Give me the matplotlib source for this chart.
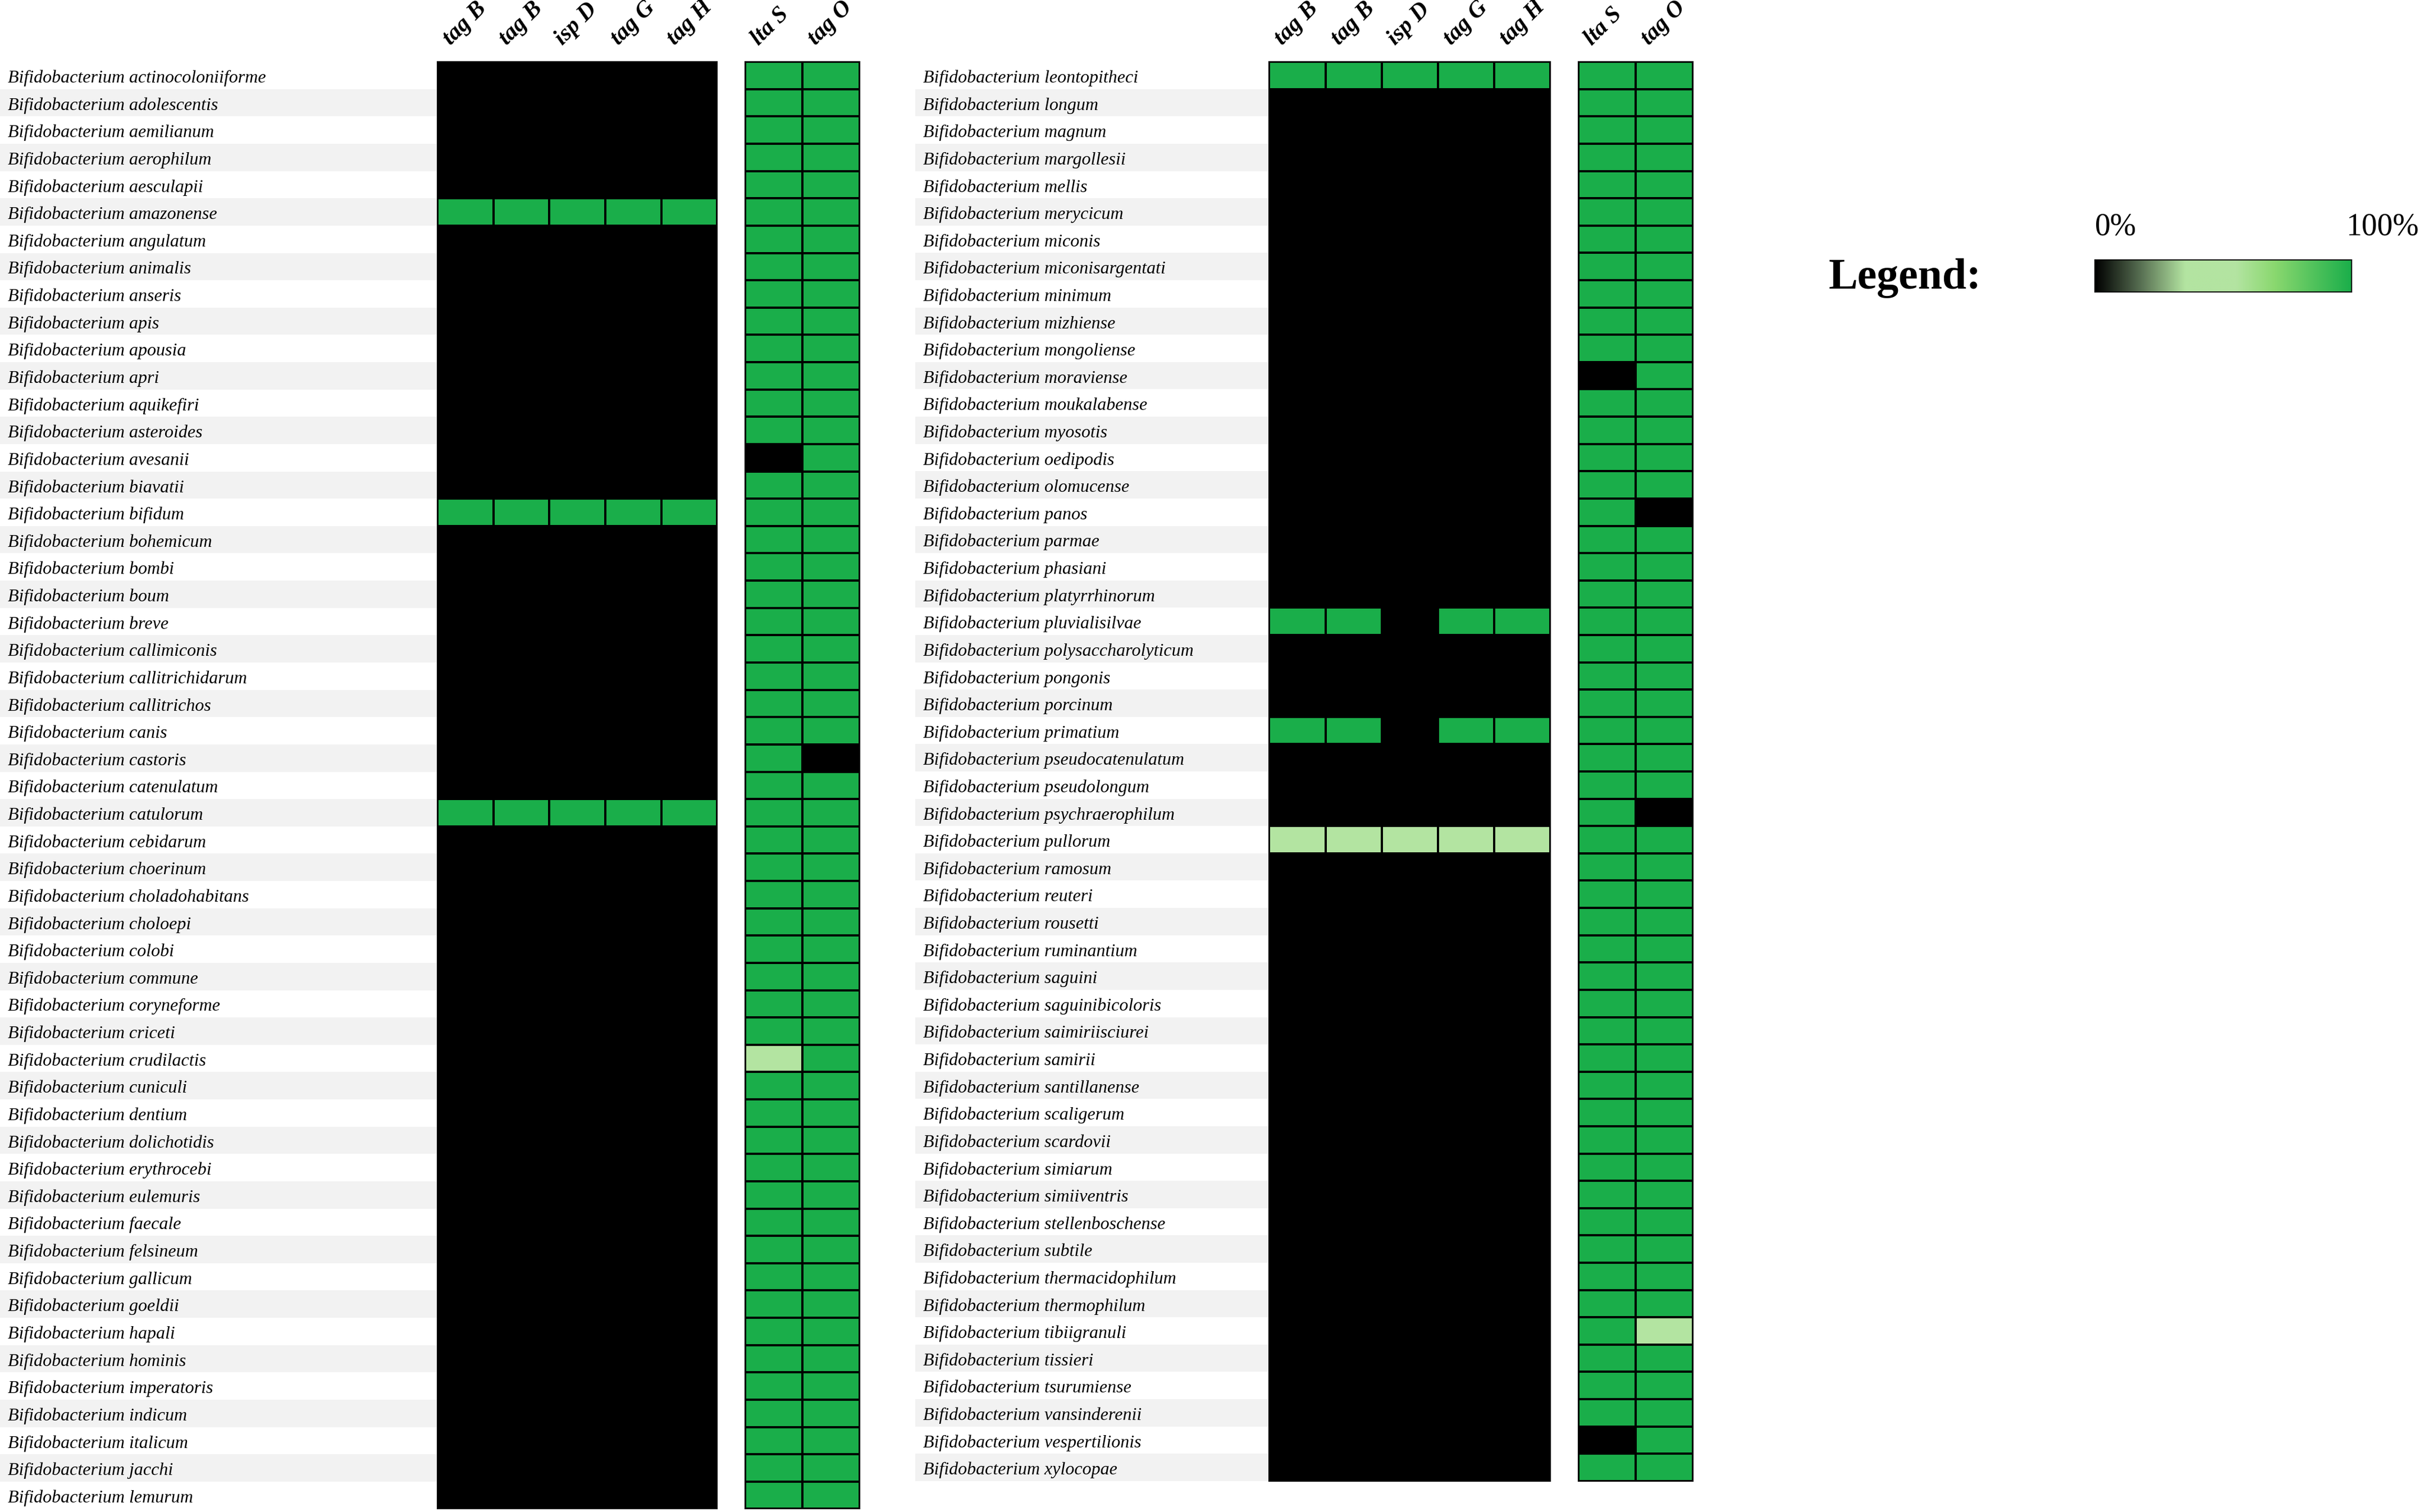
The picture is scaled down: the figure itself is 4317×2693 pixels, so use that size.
import matplotlib
matplotlib.use("Agg")
import matplotlib.pyplot as plt
import numpy as np
from matplotlib.colors import LinearSegmentedColormap

left_species = ["actinocoloniiforme","adolescentis","aemilianum","aerophilum","aesculapii","amazonense",
"angulatum","animalis","anseris","apis","apousia","apri","aquikefiri","asteroides","avesanii","biavatii",
"bifidum","bohemicum","bombi","boum","breve","callimiconis","callitrichidarum","callitrichos","canis",
"castoris","catenulatum","catulorum","cebidarum","choerinum","choladohabitans","choloepi","colobi",
"commune","coryneforme","criceti","crudilactis","cuniculi","dentium","dolichotidis","erythrocebi",
"eulemuris","faecale","felsineum","gallicum","goeldii","hapali","hominis","imperatoris","indicum",
"italicum","jacchi","lemurum"]
right_species = ["leontopitheci","longum","magnum","margollesii","mellis","merycicum","miconis",
"miconisargentati","minimum","mizhiense","mongoliense","moraviense","moukalabense","myosotis","oedipodis",
"olomucense","panos","parmae","phasiani","platyrrhinorum","pluvialisilvae","polysaccharolyticum","pongonis",
"porcinum","primatium","pseudocatenulatum","pseudolongum","psychraerophilum","pullorum","ramosum","reuteri",
"rousetti","ruminantium","saguini","saguinibicoloris","saimiriisciurei","samirii","santillanense","scaligerum",
"scardovii","simiarum","simiiventris","stellenboschense","subtile","thermacidophilum","thermophilum",
"tibiigranuli","tissieri","tsurumiense","vansinderenii","vespertilionis","xylocopae"]

genes_main = ["tag B", "tag B", "isp D", "tag G", "tag H"]
genes_side = ["lta S", "tag O"]

# values (0 = 0%, 1 = 100%) per species: tagB, tagB, ispD, tagG, tagH | ltaS, tagO
left_main = [[0]*5]*53
left_main = [list(r) for r in left_main]
for i in (5, 16, 27):
    left_main[i] = [1, 1, 1, 1, 1]
left_ltaS = [1]*53
left_ltaS[14] = 0
left_ltaS[36] = 0.5
left_tagO = [1]*53
left_tagO[25] = 0

right_main = [[0]*5 for _ in range(52)]
right_main[0] = [1, 1, 1, 1, 1]
right_main[20] = [1, 1, 0, 1, 1]
right_main[24] = [1, 1, 0, 1, 1]
right_main[28] = [0.5, 0.5, 0.5, 0.5, 0.5]
right_ltaS = [1]*52
right_ltaS[11] = 0
right_ltaS[50] = 0
right_tagO = [1]*52
right_tagO[16] = 0
right_tagO[27] = 0
right_tagO[46] = 0.5

cmap = LinearSegmentedColormap.from_list("g", [(0, "#000000"), (0.15, "#4a5e46"), (0.35, "#b3e4a1"),
                                               (0.55, "#b3e4a1"), (0.7, "#8ad86f"), (1.0, "#1aae4a")])

W, H = 1568, 978
fig = plt.figure(figsize=(43.17, 26.93), dpi=100)

def ax_px(x0, x1, y0, y1, **kw):
    return fig.add_axes([x0/W, 1-y1/H, (x1-x0)/W, (y1-y0)/H], **kw)

def panel(species, main, ltaS, tagO, lab_x, hx0, hx1, sx0, sx1, y0, y1):
    n = len(species)
    # labels axes with stripes
    la = ax_px(lab_x-5, hx0, y0, y1)
    la.set_xlim(0, 1); la.set_ylim(n, 0); la.axis("off")
    for i in range(n):
        if i % 2 == 1:
            la.axhspan(i, i+1, color="#f2f2f2", lw=0, zorder=0)
        la.text(5/(hx0-lab_x+5), i+0.6, "Bifidobacterium " + species[i], fontsize=23,
                family="Liberation Serif", style="italic", va="center", ha="left", clip_on=True)
    for x0, x1, data, labs in ((hx0, hx1, np.array(main, float), genes_main),
                               (sx0, sx1, np.column_stack([ltaS, tagO]).astype(float), genes_side)):
        a = ax_px(x0, x1, y0, y1)
        a.pcolormesh(np.arange(data.shape[1]+1), np.arange(n+1), data, cmap=cmap, vmin=0, vmax=1,
                     edgecolors="black", linewidth=1.5)
        a.set_xlim(0, data.shape[1]); a.set_ylim(n, 0)
        a.set_xticks([]); a.set_yticks([])
        for s in a.spines.values():
            s.set_linewidth(1.5)
        for j, g in enumerate(labs):
            a.text(j+0.3, -0.45, g, rotation=45, rotation_mode="anchor", ha="left", va="bottom",
                   fontsize=30, family="Liberation Serif", style="italic", weight="bold", clip_on=False)

panel(left_species, left_main, left_ltaS, left_tagO, 5, 283, 464, 482, 556, 40, 976)
panel(right_species, right_main, right_ltaS, right_tagO, 597, 821, 1003, 1021, 1095, 40, 958)

# legend
ca = ax_px(1355, 1521, 168, 189)
ca.imshow(np.linspace(0, 1, 256)[None, :], cmap=cmap, aspect="auto", extent=(0, 1, 0, 1))
ca.set_xticks([]); ca.set_yticks([])
for s in ca.spines.values():
    s.set_linewidth(1.5)
ca.text(0.0, 2.0, "0%", ha="left", va="center", fontsize=40, family="Liberation Serif", transform=ca.transAxes)
ca.text(1.12, 2.0, "100%", ha="center", va="center", fontsize=40, family="Liberation Serif", transform=ca.transAxes)
fig.text(1183/W, 1-180/H, "Legend:", ha="left", va="center", fontsize=56, weight="bold", family="Liberation Serif")

fig.savefig("out.png", dpi=100)
